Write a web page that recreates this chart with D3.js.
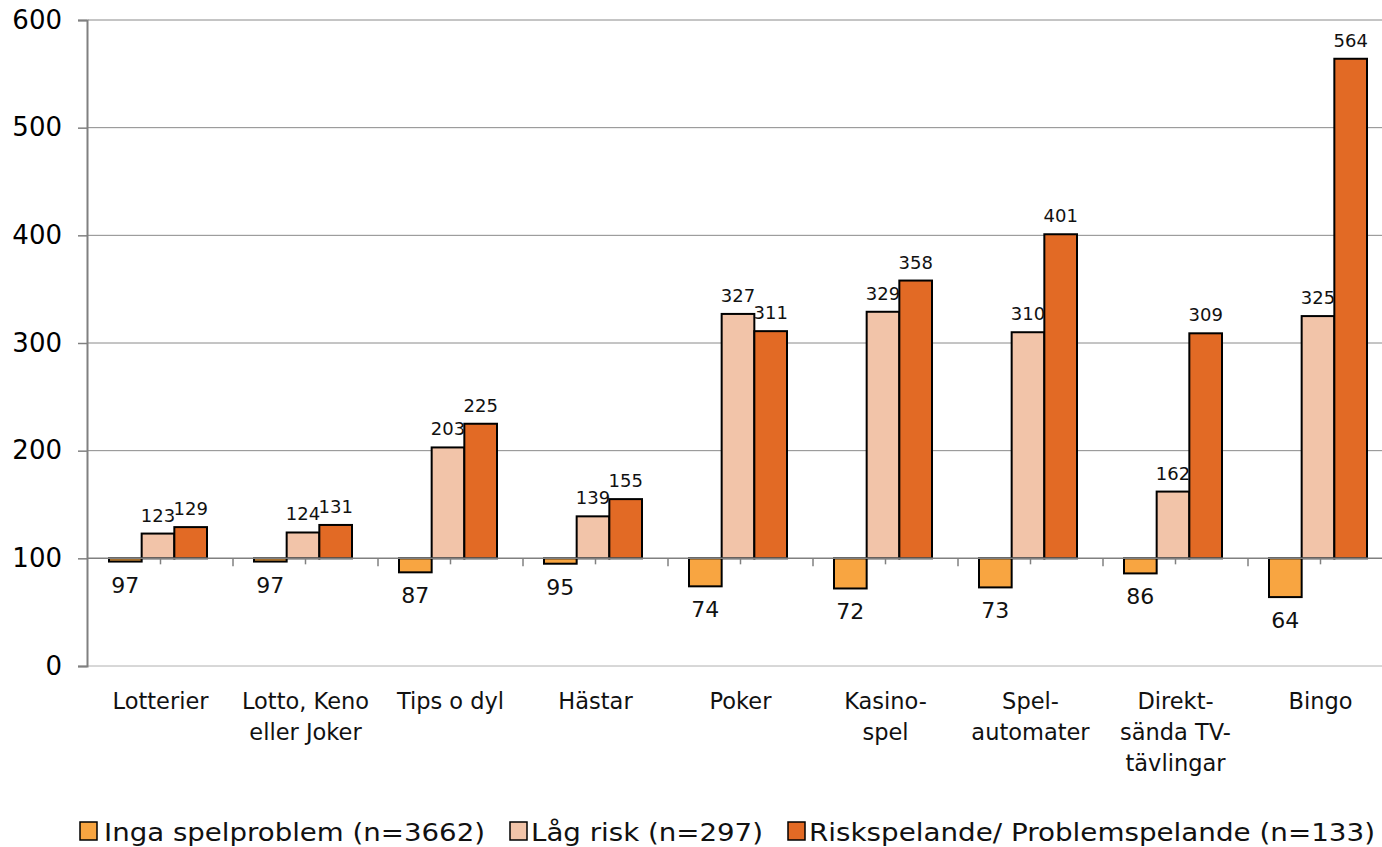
<!DOCTYPE html>
<html><head><meta charset="utf-8">
<script src="https://cdn.jsdelivr.net/npm/d3@7"></script>
<style>body{margin:0;background:#fff}svg{display:block;font-family:"DejaVu Sans",Verdana,sans-serif}</style>
</head><body><svg id="c" width="1382" height="847"></svg>
<script>
const categories = [["Lotterier"],["Lotto, Keno","eller Joker"],["Tips o dyl"],["Hästar"],["Poker"],["Kasino-","spel"],["Spel-","automater"],["Direkt-","sända TV-","tävlingar"],["Bingo"]];
const seriesNames = ["Inga spelproblem (n=3662)","Låg risk (n=297)","Riskspelande/ Problemspelande (n=133)"];
const inga = [97,97,87,95,74,72,73,86,64];
const lagRisk = [123,124,203,139,327,329,310,162,325];
const riskspel = [129,131,225,155,311,358,401,309,564];
const yTicks = [0,100,200,300,400,500,600];
const colors = ["#F8A541","#F2C4A9","#E26A25"];
const baseline = 100;

const svg = d3.select("#c");
const y = d3.scaleLinear().domain([0,600]).range([666,20]);
const catIdx = categories.map((d,i)=>i);
const x0 = d3.scaleBand().domain(catIdx).range([88,1393]).padding(0);
const x1 = d3.scaleBand().domain([0,1,2]).range([21,119]).padding(0);
const series = [inga, lagRisk, riskspel];

// gridlines
svg.append("g").selectAll("line").data(yTicks.filter(t=>t!==baseline)).join("line")
  .attr("x1",88).attr("x2",1382).attr("y1",d=>y(d)).attr("y2",d=>y(d))
  .attr("stroke",d=>d===0?"#b0b0b0":"#8a8a8a").attr("stroke-width",1);

// y axis
const yAxis = d3.axisLeft(y).tickValues(yTicks).tickSize(9).tickPadding(16).tickFormat(d3.format("d"));
const ga = svg.append("g").attr("transform","translate(87,0)").call(yAxis);
ga.select(".domain").attr("stroke","#808080").attr("stroke-width",2);
ga.selectAll(".tick line").attr("stroke","#808080").attr("stroke-width",1.5);
ga.selectAll(".tick text").attr("font-size",26).attr("fill","#000").attr("font-family","DejaVu Sans, sans-serif");

// bars
series.forEach((vals,s)=>{
  svg.append("g").selectAll("rect").data(vals).join("rect")
    .attr("x",(d,i)=>x0(i)+x1(s))
    .attr("width",x1.bandwidth())
    .attr("y",d=>y(Math.max(d,baseline)))
    .attr("height",d=>Math.abs(y(d)-y(baseline)))
    .attr("fill",colors[s]).attr("stroke","#000").attr("stroke-width",2);
});

// category axis at 100
const axY = y(baseline);
svg.append("line").attr("x1",88).attr("x2",1382).attr("y1",axY).attr("y2",axY).attr("stroke","#808080").attr("stroke-width",1.5);
const tickXs = [];
catIdx.forEach(i=>{tickXs.push({x:x0(i),l:8}); tickXs.push({x:x0(i)+x0.bandwidth()/2,l:6});});
svg.append("g").selectAll("line").data(tickXs.filter(t=>t.x>90)).join("line")
  .attr("x1",d=>d.x).attr("x2",d=>d.x).attr("y1",axY).attr("y2",d=>axY+d.l)
  .attr("stroke","#808080").attr("stroke-width",1.5);

// value labels
series.forEach((vals,s)=>{
  svg.append("g").selectAll("text").data(vals).join("text")
    .attr("x",(d,i)=>x0(i)+x1(s)+x1.bandwidth()/2)
    .attr("y",d=>d>=baseline? y(d)-12 : y(d)+31)
    .attr("text-anchor","middle")
    .attr("font-size",d=>d>=baseline?18:22)
    .attr("fill","#111")
    .text(d=>d);
});

// category labels
const cl = svg.append("g").selectAll("text").data(categories).join("text")
  .attr("x",(d,i)=>x0(i)+x0.bandwidth()/2).attr("y",709)
  .attr("text-anchor","middle").attr("font-size",22.5).attr("fill","#111");
cl.each(function(lines){
  d3.select(this).selectAll("tspan").data(lines).join("tspan")
    .attr("x",d3.select(this).attr("x")).attr("dy",(d,j)=>j===0?0:31).text(d=>d);
});

// legend
const legX = [80,510,788], legTX=[104,531,809], legLen=[381,232,566];
const lg = svg.append("g");
seriesNames.forEach((n,i)=>{
  lg.append("rect").attr("x",legX[i]).attr("y",822).attr("width",17).attr("height",18)
    .attr("fill",colors[i]).attr("stroke","#000").attr("stroke-width",1.5);
  lg.append("text").attr("x",legTX[i]).attr("y",841).attr("font-size",25)
    .attr("textLength",legLen[i]).attr("lengthAdjust","spacingAndGlyphs").attr("fill","#111").text(n);
});
</script></body></html>
